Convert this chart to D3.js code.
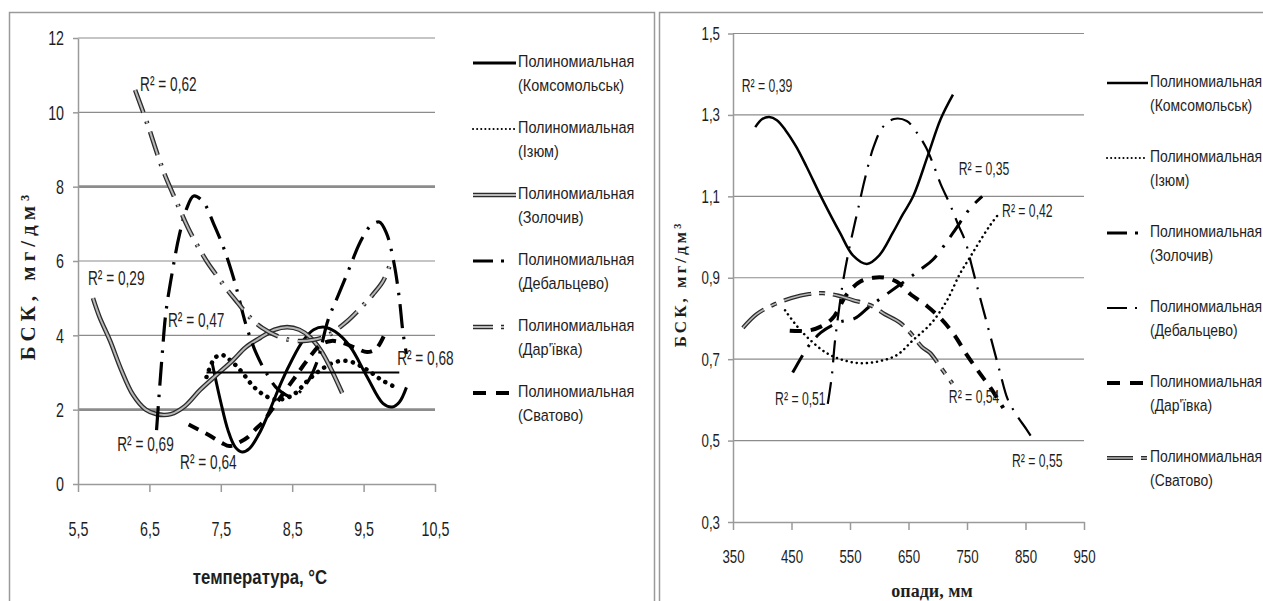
<!DOCTYPE html>
<meta charset="utf-8">
<title>БСК</title>
<script src="https://d3js.org/d3.v7.min.js"></script>
<style>
    body { margin: 0; background: #fff; }
    svg text { font-family: "Liberation Sans", Arial, sans-serif; fill: #1e1e1e; }
    .serif { font-family: "Liberation Serif", "DejaVu Serif", serif !important; font-weight: bold; }
    /* narrow look of the original labels */
    .nl, .nm, .nr { transform-box: fill-box; }
    .nl { transform-origin: left center; }
    .nm { transform-origin: center center; }
    .nr { transform-origin: right center; }
</style>
<body>
<div id="chart"></div>
<script>
// stations, same order in both legends
const stations = ["Комсомольськ", "Ізюм", "Золочив", "Дебальцево", "Дар'ївка", "Сватово"];

// ---------- left chart: БСК vs температура ----------
const tempTicks = [5.5, 6.5, 7.5, 8.5, 9.5, 10.5];
const tempBskTicks = [0, 2, 4, 6, 8, 10, 12];
const tempBoldGrid = [2, 8];

const tKomsomolsk = [[7.38, 3.25], [7.5, 2.2], [7.6, 1.45], [7.7, 1.0], [7.8, 0.86], [7.9, 0.95], [8.05, 1.4],
    [8.2, 2.05], [8.35, 2.75], [8.5, 3.35], [8.65, 3.85], [8.8, 4.15], [8.95, 4.22], [9.1, 4.1], [9.31, 3.7],
    [9.55, 2.88], [9.77, 2.17], [9.9, 2.07], [10.0, 2.2], [10.1, 2.6]];
const tIzium = [[7.3, 2.88], [7.42, 3.4], [7.52, 3.47], [7.65, 3.3], [7.8, 3.0], [7.95, 2.64], [8.1, 2.4],
    [8.25, 2.28], [8.4, 2.3], [8.55, 2.45], [8.7, 2.75], [8.9, 3.07], [9.1, 3.28], [9.3, 3.3], [9.55, 3.07],
    [9.75, 2.8], [9.95, 2.6]];
const tZolochiv = [[5.71, 5.0], [5.8, 4.5], [5.95, 3.85], [6.1, 3.1], [6.27, 2.4], [6.45, 2.0], [6.6, 1.88],
    [6.8, 1.88], [7.0, 2.1], [7.21, 2.53], [7.45, 2.95], [7.67, 3.33], [7.85, 3.68], [8.05, 3.93], [8.25, 4.15],
    [8.43, 4.22], [8.6, 4.15], [8.75, 3.95], [8.9, 3.6], [9.03, 3.15], [9.2, 2.45]];
const tDebaltseve = [[6.6, 1.45], [6.64, 2.5], [6.68, 3.5], [6.73, 4.6], [6.82, 5.7], [6.92, 6.7], [7.02, 7.4],
    [7.12, 7.75], [7.25, 7.6], [7.4, 7.0], [7.55, 6.3], [7.7, 5.4], [7.85, 4.3], [8.0, 3.5], [8.15, 2.95],
    [8.3, 2.55], [8.5, 2.35], [8.7, 2.7], [8.85, 3.3], [9.0, 4.4], [9.15, 5.1], [9.3, 5.8], [9.45, 6.5],
    [9.6, 6.95], [9.72, 7.05], [9.82, 6.75], [9.92, 6.0], [10.0, 5.0], [10.05, 4.1], [10.1, 3.5]];
const tDarivka = [[6.3, 10.6], [6.47, 9.7], [6.63, 8.77], [6.72, 8.3], [6.9, 7.5], [7.07, 6.78], [7.3, 6.0],
    [7.42, 5.67], [7.6, 5.2], [7.74, 4.87], [7.9, 4.5], [8.08, 4.2], [8.33, 3.95], [8.55, 3.85], [8.8, 3.88],
    [9.0, 4.0], [9.24, 4.33], [9.49, 4.8], [9.63, 5.1], [9.77, 5.45], [9.87, 5.9]];
const tSvatove = [[7.05, 1.6], [7.28, 1.37], [7.4, 1.24], [7.52, 1.1], [7.62, 1.02], [7.77, 1.13], [7.88, 1.26],
    [8.0, 1.5], [8.09, 1.67], [8.25, 2.1], [8.4, 2.5], [8.55, 2.9], [8.7, 3.3], [8.9, 3.75], [9.05, 3.85],
    [9.2, 3.8], [9.4, 3.65], [9.55, 3.55], [9.68, 3.65], [9.8, 4.05]];
const tFlat = [[7.3, 3.0], [10.0, 3.0]];
const tR2 = [["0,62", 6.37, 10.73], ["0,29", 5.64, 5.49], ["0,47", 6.76, 4.36],
    ["0,69", 6.05, 1.05], ["0,64", 6.93, 0.56], ["0,68", 9.97, 3.34]];

// ---------- right chart: БСК vs опади ----------
const rainTicks = [350, 450, 550, 650, 750, 850, 950];
const rainBskTicks = [0.3, 0.5, 0.7, 0.9, 1.1, 1.3, 1.5];

const rKomsomolsk = [[388, 1.27], [400, 1.29], [412, 1.295], [425, 1.287], [440, 1.262], [458, 1.222],
    [476, 1.172], [502, 1.095], [533, 1.01], [555, 0.955], [579, 0.934], [600, 0.955], [623, 1.01], [640, 1.055],
    [658, 1.1], [683, 1.2], [705, 1.29], [726, 1.35]];
const rIzium = [[439, 0.82], [460, 0.78], [482, 0.747], [510, 0.715], [540, 0.697], [570, 0.69], [600, 0.695],
    [630, 0.71], [658, 0.747], [690, 0.79], [716, 0.845], [738, 0.91], [755, 0.95], [772, 0.99], [790, 1.03],
    [806, 1.06]];
const rZolochiv = [[452, 0.667], [465, 0.7], [478, 0.73], [500, 0.765], [530, 0.79], [558, 0.8], [584, 0.83],
    [613, 0.86], [647, 0.895], [670, 0.92], [692, 0.945], [726, 1.01], [755, 1.07], [776, 1.1]];
const rDebaltseve = [[512, 0.59], [519, 0.66], [524, 0.74], [531, 0.82], [538, 0.89], [547, 0.96], [556, 1.02],
    [564, 1.07], [575, 1.14], [590, 1.22], [606, 1.27], [625, 1.29], [647, 1.285], [665, 1.255], [680, 1.22],
    [692, 1.18], [705, 1.13], [721, 1.08], [735, 1.03], [747, 0.99], [758, 0.93], [767, 0.88], [780, 0.81],
    [793, 0.74], [806, 0.67], [820, 0.6], [836, 0.56], [852, 0.527], [864, 0.5]];
const rDarivka = [[447, 0.77], [478, 0.77], [500, 0.78], [520, 0.8], [545, 0.86], [567, 0.89], [590, 0.9],
    [610, 0.9], [630, 0.89], [653, 0.86], [682, 0.83], [705, 0.8], [728, 0.76], [750, 0.71], [772, 0.665],
    [790, 0.63], [812, 0.58]];
const rSvatove = [[367, 0.777], [390, 0.81], [418, 0.833], [450, 0.85], [480, 0.86], [504, 0.862], [530, 0.856],
    [555, 0.845], [584, 0.833], [610, 0.81], [635, 0.79], [653, 0.765], [673, 0.73], [687, 0.715], [705, 0.68],
    [725, 0.64]];
const rR2 = [["0,39", 365, 1.368], ["0,35", 736, 1.165], ["0,42", 810, 1.061],
    ["0,51", 422, 0.6], ["0,54", 719, 0.605], ["0,55", 827, 0.447]];

// line looks
const leftStyle = {
    "Комсомольськ": {w: 3},
    "Ізюм": {w: 4.5, dash: "0.1 7.5", cap: "round"},
    "Золочив": {w: 2, double: true},
    "Дебальцево": {w: 3.2, dash: "24 9 2.5 9"},
    "Дар'ївка": {w: 2, double: true, dash: "24 9 2.5 9"},
    "Сватово": {w: 4, dash: "11 8"}
};
const leftLegendDash = {"Ізюм": "0.1 4", "Дебальцево": "20 8 3 40", "Дар'ївка": "20 8 3 40", "Сватово": "13 10 13 40"};
const rightStyle = {
    "Комсомольськ": {w: 2.5},
    "Ізюм": {w: 2.5, dash: "0.1 5", cap: "round"},
    "Золочив": {w: 3, dash: "20 10 2.5 10"},
    "Дебальцево": {w: 2.2, dash: "22 9 2 9"},
    "Дар'ївка": {w: 4, dash: "12 9"},
    "Сватово": {w: 1.6, double: true, dash: "28 8 6 8"}
};
const rightLegendDash = {"Ізюм": "0.1 4", "Золочив": "20 8 3 40", "Дебальцево": "20 8 2 40", "Дар'ївка": "13 10 13 40", "Сватово": "26 8 6 40"};

var svg = d3.select("#chart").append("svg")
    .attr("width", 1263).attr("height", 601);

// panel frames
svg.append("rect").attr("x", 9.5).attr("y", 12.5).attr("width", 645).attr("height", 640)
    .attr("fill", "none").attr("stroke", "#9a9a9a").attr("stroke-width", 1.5);
svg.append("rect").attr("x", 659.5).attr("y", 12.5).attr("width", 640).attr("height", 640)
    .attr("fill", "none").attr("stroke", "#9a9a9a").attr("stroke-width", 1.5);

var comma = function(d) { return String(d).replace(".", ","); };

function squeeze(sel, cls, k) {
    sel.attr("class", cls).style("transform", "scaleX(" + k + ")");
}

function drawLine(g, pts, st, x, y) {
    var line = d3.line().x(function(d) { return x(d[0]); }).y(function(d) { return y(d[1]); })
        .curve(d3.curveCatmullRom.alpha(0.5));
    if (st.double) {
        g.append("path").attr("d", line(pts)).attr("fill", "none").attr("stroke", "#2b2b2b")
            .attr("stroke-width", st.w + 2.6).attr("stroke-dasharray", st.dash || null);
        g.append("path").attr("d", line(pts)).attr("fill", "none").attr("stroke", "#b8b8b8")
            .attr("stroke-width", st.w).attr("stroke-dasharray", st.dash || null);
    } else {
        g.append("path").attr("d", line(pts)).attr("fill", "none").attr("stroke", "#000")
            .attr("stroke-width", st.w).attr("stroke-dasharray", st.dash || null)
            .attr("stroke-linecap", st.cap || "butt");
    }
}

function drawPanel(c) {
    var x = d3.scaleLinear().domain(d3.extent(c.xTicks)).range([c.x0, c.x1]);
    var y = d3.scaleLinear().domain(d3.extent(c.yTicks)).range([c.y1, c.y0]);
    var g = svg.append("g");

    // grid
    g.selectAll(".grid").data(c.yTicks.slice(1)).enter().append("line")
        .attr("x1", c.x0).attr("x2", c.x1)
        .attr("y1", function(d) { return y(d); }).attr("y2", function(d) { return y(d); })
        .attr("stroke", "#8c8c8c")
        .attr("stroke-width", function(d) { return c.bold.indexOf(d) >= 0 ? 2.6 : 1.2; });

    var ax = g.append("g").attr("transform", "translate(0," + c.y1 + ")")
        .call(d3.axisBottom(x).tickValues(c.xTicks).tickFormat(comma).tickSize(8).tickPadding(c.xPad).tickSizeOuter(0));
    var ay = g.append("g").attr("transform", "translate(" + c.x0 + ",0)")
        .call(d3.axisLeft(y).tickValues(c.yTicks).tickFormat(comma).tickSize(5).tickPadding(c.yPad).tickSizeOuter(0));
    [ax, ay].forEach(function(a) {
        a.select(".domain").attr("stroke", "#9a9a9a").attr("stroke-width", 1.5);
        a.selectAll(".tick line").attr("stroke", "#9a9a9a").attr("stroke-width", 1.5);
        a.selectAll("text").attr("font-size", c.tickFont).attr("font-family", null).style("fill", "#1e1e1e");
    });
    squeeze(ax.selectAll("text"), "nm", c.tickK);
    squeeze(ay.selectAll("text"), "nr", c.tickK);

    // trend curves
    c.series.forEach(function(s, i) { drawLine(g, s, c.style[stations[i]], x, y); });
    if (c.extra) drawLine(g, c.extra, {w: 1.8}, x, y);

    // R² labels
    var r2 = g.selectAll(".r2").data(c.r2).enter().append("text")
        .attr("x", function(d) { return x(d[1]); }).attr("y", function(d) { return y(d[2]); })
        .attr("dominant-baseline", "middle").attr("font-size", c.r2Font)
        .text(function(d) { return "R² = " + d[0]; });
    squeeze(r2, "nl", c.r2K);

    // legend
    var lg = g.append("g");
    stations.forEach(function(name, i) {
        var ly = c.legY + i * c.legStep;
        var st = c.style[name];
        var s2 = Object.assign({}, st, {dash: c.legDash[name] || null, w: st.cap ? 2 : st.w});
        drawLine(lg, [[c.legX, ly], [c.legX + c.legW, ly]], s2, function(v) { return v; }, function(v) { return v; });
        var t1 = lg.append("text").attr("x", c.legX + c.legW + 2).attr("y", ly).attr("dominant-baseline", "middle")
            .attr("font-size", c.legFont).text("Полиномиальная");
        var t2 = lg.append("text").attr("x", c.legX + c.legW + 2).attr("y", ly + 24).attr("dominant-baseline", "middle")
            .attr("font-size", c.legFont).text("(" + name + ")");
        squeeze(t1, "nl", c.legK);
        squeeze(t2, "nl", c.legK);
    });

    // axis titles
    var xt = g.append("text")
        .attr("x", c.xTitle[1]).attr("y", c.xTitle[2]).attr("text-anchor", "middle")
        .attr("dominant-baseline", "middle").attr("font-size", c.xTitle[3]).attr("font-weight", "bold")
        .text(c.xTitle[0]);
    if (c.xTitleSerif) xt.attr("class", "serif");
    else squeeze(xt, "nm", 0.8);
    g.append("text").attr("class", "serif")
        .attr("transform", "translate(" + c.yTitle[1] + "," + c.yTitle[2] + ") rotate(-90)")
        .attr("text-anchor", "middle").attr("dominant-baseline", "middle")
        .attr("font-size", c.yTitle[3]).attr("letter-spacing", c.yTitle[4])
        .text(c.yTitle[0]);
}

drawPanel({
    xTicks: tempTicks, yTicks: tempBskTicks, bold: tempBoldGrid,
    x0: 78, x1: 435, y0: 38, y1: 484, xPad: 29, yPad: 9, tickFont: 21, tickK: 0.68, r2Font: 21, r2K: 0.65,
    series: [tKomsomolsk, tIzium, tZolochiv, tDebaltseve, tDarivka, tSvatove], extra: tFlat,
    style: leftStyle, r2: tR2, legDash: leftLegendDash,
    legX: 473, legW: 43, legY: 63, legStep: 66, legFont: 17, legK: 0.85,
    xTitle: ["температура, °С", 260, 578, 21], xTitleSerif: false,
    yTitle: ["БСК, мг/дм³", 30, 275, 21, 5]
});
drawPanel({
    xTicks: rainTicks, yTicks: rainBskTicks, bold: [],
    x0: 733, x1: 1084, y0: 33.5, y1: 522, xPad: 20, yPad: 8, tickFont: 19, tickK: 0.7, r2Font: 18.5, r2K: 0.66,
    series: [rKomsomolsk, rIzium, rZolochiv, rDebaltseve, rDarivka, rSvatove],
    style: rightStyle, r2: rR2, legDash: rightLegendDash,
    legX: 1107, legW: 41, legY: 83, legStep: 75, legFont: 16, legK: 0.87,
    xTitle: ["опади, мм", 932, 593, 18], xTitleSerif: true,
    yTitle: ["БСК, мг/дм³", 682, 284, 17, 3]
});
</script>
</body>
